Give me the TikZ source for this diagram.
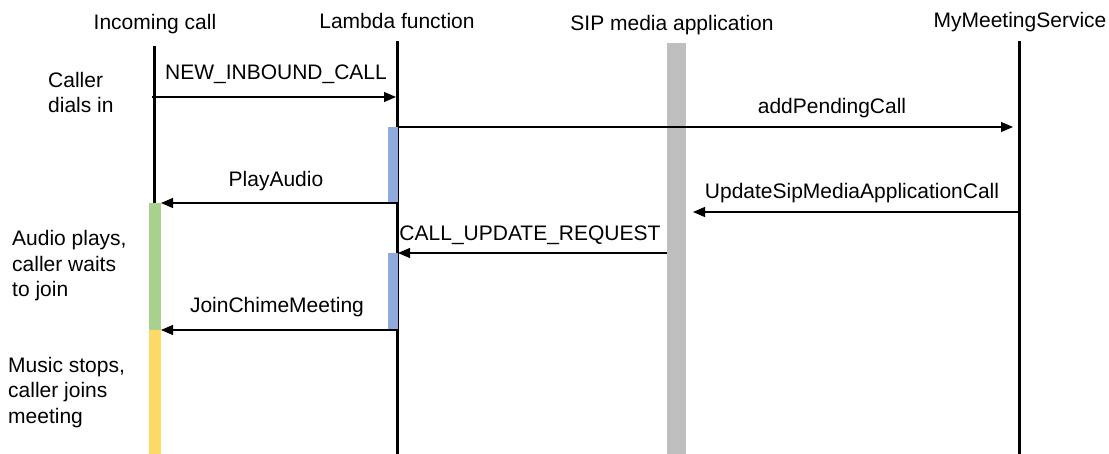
\documentclass[tikz,border=0pt]{standalone}
\usepackage{fontspec}
\setmainfont{Liberation Sans}
\usetikzlibrary{arrows.meta}
\definecolor{actblue}{HTML}{8FAADC}
\definecolor{actgreen}{HTML}{A9D18E}
\definecolor{actyellow}{HTML}{FFD966}
\definecolor{sipgray}{HTML}{BFBFBF}
\begin{document}
\begin{tikzpicture}[x=1pt,y=-1pt,
  lbl/.style={font=\fontsize{21}{25.5}\selectfont, inner sep=0pt, anchor=base},
  note/.style={font=\fontsize{21}{25.5}\selectfont, inner sep=0pt, align=left, anchor=base west},
  life/.style={line width=3pt},
  msg/.style={line width=1.2pt, -{Triangle[length=12pt,width=10pt]}},
  bar/.style={inner sep=0pt, outer sep=0pt, draw=none, anchor=north west}]
\useasboundingbox (0,0) rectangle (1109,454);
% headers
\node[lbl] (hic) at (155,30) {Incoming call};
\node[lbl] (hlf) at (397,29) {Lambda function};
\node[lbl] (hsip) at (672,31) {SIP media application};
\node[lbl] (hms) at (1020,28) {MyMeetingService};
% lifelines
\coordinate (ict) at (154,46);
\coordinate (icb) at (154,204);
\coordinate (lft) at (397,41);
\coordinate (lfb) at (397,454);
\coordinate (mst) at (1019,41);
\coordinate (msb) at (1019,454);
\draw[life] (ict) -- (icb);
\draw[life] (lft) -- (lfb);
\draw[life] (mst) -- (msb);
% activation bars
\node[bar, fill=sipgray, minimum width=19pt, minimum height=411pt] (sip) at (667,43) {};
\node[bar, fill=actblue, minimum width=10pt, minimum height=76pt] (la1) at (388,127) {};
\node[bar, fill=actblue, minimum width=10pt, minimum height=77pt] (la2) at (388,253) {};
\node[bar, fill=actgreen, minimum width=12pt, minimum height=127pt] (gr) at (149,203) {};
\node[bar, fill=actyellow, minimum width=12pt, minimum height=124pt] (yl) at (149,330) {};
% message points
\coordinate (m1s) at (152,97);
\coordinate (m1e) at (396,97);
\coordinate (m2e) at (1013,127);
\coordinate (m4s) at (1019,212);
\coordinate (m4e) at (693,212);
% messages
\draw[msg] (m1s) -- (m1e);
\draw[msg] (la1.north east) -- (m2e);
\draw[msg] (la1.south east) -- (gr.north east);
\draw[msg] (m4s) -- (m4e);
\draw[msg] (sip.west |- la2.north east) -- (la2.north east);
\draw[msg] (la2.south east) -- (yl.north east);
% message labels
\node[lbl] (t1) at (276,80) {NEW\_INBOUND\_CALL};
\node[lbl] (t2) at (832,114) {addPendingCall};
\node[lbl] (t3) at (276,187) {PlayAudio};
\node[lbl] (t4) at (852,199) {UpdateSipMediaApplicationCall};
\node[lbl] (t5) at (530,241) {CALL\_UPDATE\_REQUEST};
\node[lbl] (t6) at (277,313) {JoinChimeMeeting};
% notes
\node[note] (n1) at (48,113) {Caller\\dials in};
\node[note] (n2) at (12,297) {Audio plays,\\caller waits\\to join};
\node[note] (n3) at (8,423) {Music stops,\\caller joins\\meeting};
\end{tikzpicture}
\end{document}
